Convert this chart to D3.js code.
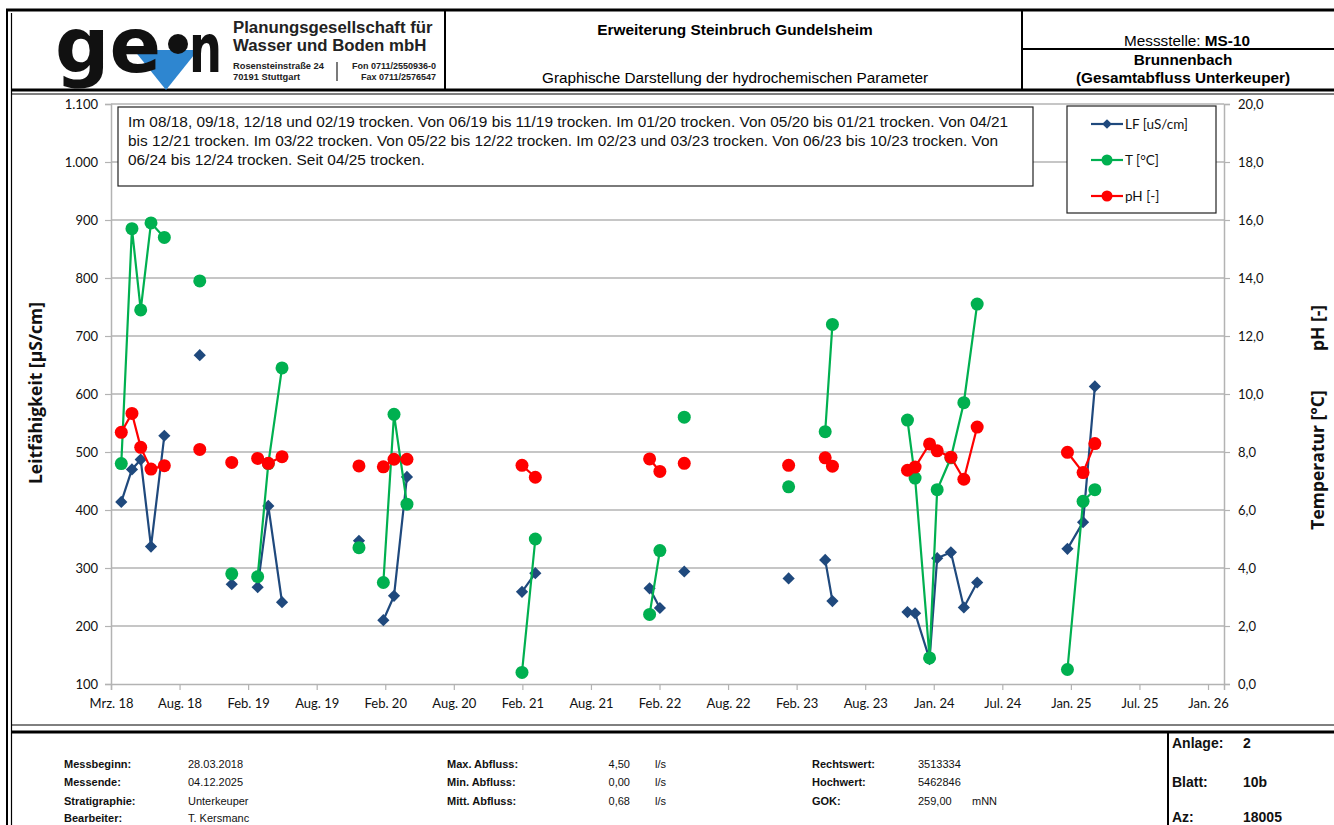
<!DOCTYPE html>
<html><head><meta charset="utf-8">
<script src="https://cdn.jsdelivr.net/npm/d3@7"></script>
<style>
html,body{margin:0;padding:0;background:#fff;}
svg{display:block;}
</style></head>
<body>
<svg id="chart" width="1334" height="825"></svg>
<script>
// ---------------- DATA ----------------
// measurement dates; dry months (from the note) carry null values and break the lines
const dates = [
 "2018-03-28","2018-04-25","2018-05-18","2018-06-14","2018-07-19","2018-08-15",
 "2018-10-20","2018-12-15",
 "2019-01-12","2019-02-15",
 "2019-03-21","2019-04-18","2019-05-24","2019-08-15",
 "2019-12-12","2020-01-15",
 "2020-02-14","2020-03-13","2020-04-16","2020-09-15",
 "2021-02-12","2021-03-19","2021-08-15",
 "2022-01-13","2022-02-09","2022-03-15",
 "2022-04-14","2022-08-15",
 "2023-01-13","2023-02-15",
 "2023-04-19","2023-05-08","2023-08-15",
 "2023-11-21","2023-12-11","2024-01-18","2024-02-07","2024-03-14","2024-04-17","2024-05-22","2024-09-15",
 "2025-01-14","2025-02-24","2025-03-27"
];
const lfValues = [414,470,487,337,528,null, 667,null, 272,null, 267,407,241,null, 347,null, 210,252,457,null,
 259,291,null, 265,231,null, 294,null, 282,null, 314,243,null, 224,222,143,317,327,232,275,null, 333,379,613];
const tValues = [7.6,15.7,12.9,15.9,15.4,null, 13.9,null, 3.8,null, 3.7,7.6,10.9,null, 4.7,null, 3.5,9.3,6.2,null,
 0.4,5.0,null, 2.4,4.6,null, 9.2,null, 6.8,null, 8.7,12.4,null, 9.1,7.1,0.9,6.7,7.8,9.7,13.1,null, 0.5,6.3,6.7];
const phValues = [8.68,9.33,8.16,7.41,7.53,null, 8.09,null, 7.64,null, 7.78,7.61,7.84,null, 7.52,null, 7.49,7.75,7.75,null,
 7.54,7.13,null, 7.76,7.33,null, 7.61,null, 7.54,null, 7.80,7.51,null, 7.37,7.48,8.28,8.04,7.82,7.06,8.86,null, 7.99,7.29,8.29];

const xTickDates = ["2018-03-01","2018-08-28","2019-02-24","2019-08-23","2020-02-19","2020-08-17","2021-02-13",
 "2021-08-12","2022-02-08","2022-08-07","2023-02-03","2023-08-02","2024-01-29","2024-07-27","2025-01-23",
 "2025-07-22","2026-01-18"];
const xTickLabels = ["Mrz. 18","Aug. 18","Feb. 19","Aug. 19","Feb. 20","Aug. 20","Feb. 21","Aug. 21","Feb. 22",
 "Aug. 22","Feb. 23","Aug. 23","Jan. 24","Jul. 24","Jan. 25","Jul. 25","Jan. 26"];
const xDomain = ["2018-03-01","2026-03-01"];
const leftTicks = [100,200,300,400,500,600,700,800,900,1000,1100];
const rightTicks = [0,2,4,6,8,10,12,14,16,18,20];
const seriesNames = ["LF [uS/cm]","T [°C]","pH [-]"];
const noteText = [
 "Im 08/18, 09/18, 12/18 und 02/19 trocken. Von 06/19 bis 11/19 trocken. Im 01/20 trocken. Von 05/20 bis 01/21 trocken. Von 04/21",
 "bis 12/21 trocken. Im 03/22 trocken. Von 05/22 bis 12/22 trocken. Im 02/23 und 03/23 trocken. Von 06/23 bis 10/23 trocken. Von",
 "06/24 bis 12/24 trocken. Seit 04/25 trocken."
];
const footerCol1 = [["Messbeginn:","28.03.2018"],["Messende:","04.12.2025"],["Stratigraphie:","Unterkeuper"],["Bearbeiter:","T. Kersmanc"]];
const footerCol2 = [["Max. Abfluss:","4,50","l/s"],["Min. Abfluss:","0,00","l/s"],["Mitt. Abfluss:","0,68","l/s"]];
const footerCol3 = [["Rechtswert:","3513334",""],["Hochwert:","5462846",""],["GOK:","259,00","mNN"]];
const footerRight = [["Anlage:","2"],["Blatt:","10b"],["Az:","18005"]];

// ---------------- DRAW ----------------
const svg = d3.select("#chart");
const parse = d3.utcParse("%Y-%m-%d");
const de = d3.formatLocale({decimal:",", thousands:".", grouping:[3], currency:["","€"]});
const fmtL = de.format(",d"), fmtR = de.format(",.1f");

const COL_LF = "#1f497d", COL_T = "#00b050", COL_PH = "#ff0000", GRID = "#b3b3b3";
const FONT = "'Liberation Sans', Arial, sans-serif";
const CFONT = "Lato, 'Open Sans', sans-serif";

const x = d3.scaleUtc().domain(xDomain.map(parse)).range([111, 1224]);
const yL = d3.scaleLinear().domain([100,1100]).range([684,104]);
const yR = d3.scaleLinear().domain([0,20]).range([684,104]);

const rows = dates.map((d,i)=>({date:parse(d), lf:lfValues[i], t:tValues[i], ph:phValues[i]}));

// ---- frame ----
const frame = svg.append("g").attr("stroke","#000").attr("fill","none");
frame.append("line").attr("x1",6).attr("x2",1334).attr("y1",10).attr("y2",10).attr("stroke-width",3);
frame.append("line").attr("x1",7).attr("x2",7).attr("y1",9).attr("y2",825).attr("stroke-width",2);
frame.append("line").attr("x1",11.5).attr("x2",11.5).attr("y1",13).attr("y2",825).attr("stroke-width",1.2);
frame.append("line").attr("x1",12).attr("x2",1334).attr("y1",90).attr("y2",90).attr("stroke-width",3);
frame.append("line").attr("x1",12).attr("x2",1334).attr("y1",94).attr("y2",94).attr("stroke-width",1);
frame.append("line").attr("x1",445).attr("x2",445).attr("y1",11).attr("y2",89).attr("stroke-width",2);
frame.append("line").attr("x1",1022).attr("x2",1022).attr("y1",11).attr("y2",89).attr("stroke-width",2);
frame.append("line").attr("x1",1022).attr("x2",1334).attr("y1",49).attr("y2",49).attr("stroke-width",2);
frame.append("line").attr("x1",12).attr("x2",1334).attr("y1",725).attr("y2",725).attr("stroke-width",1);
frame.append("line").attr("x1",12).attr("x2",1334).attr("y1",732).attr("y2",732).attr("stroke-width",3);
frame.append("line").attr("x1",1168).attr("x2",1168).attr("y1",733).attr("y2",825).attr("stroke-width",2);

// ---- logo ----
const logo = svg.append("g");
logo.append("path").attr("d","M134,50 L198,50 L166,90 Z").attr("fill","#2e86d0");
logo.append("text").attr("x",55).attr("y",72).attr("font-family","'DejaVu Sans', sans-serif").attr("font-weight",900)
  .attr("font-size",76).attr("fill","#111").attr("textLength",106).attr("lengthAdjust","spacingAndGlyphs").text("ge");
logo.append("circle").attr("cx",178).attr("cy",44).attr("r",10).attr("fill","#111");
logo.append("text").attr("x",189).attr("y",72).attr("font-family","'DejaVu Sans', sans-serif").attr("font-weight",900)
  .attr("font-size",68).attr("fill","#111").attr("textLength",33).attr("lengthAdjust","spacingAndGlyphs").text("n");
const hdr = svg.append("g").attr("font-family",FONT).attr("fill","#222");
hdr.append("text").attr("x",233).attr("y",33).attr("font-size",16.8).attr("font-weight","bold").text("Planungsgesellschaft für");
hdr.append("text").attr("x",233).attr("y",51).attr("font-size",16.8).attr("font-weight","bold").text("Wasser und Boden mbH");
hdr.append("text").attr("x",233).attr("y",69).attr("font-size",9.3).attr("font-weight","bold").text("Rosensteinstraße 24");
hdr.append("text").attr("x",233).attr("y",79.5).attr("font-size",9.3).attr("font-weight","bold").text("70191 Stuttgart");
hdr.append("line").attr("x1",337).attr("x2",337).attr("y1",62).attr("y2",81).attr("stroke","#222").attr("stroke-width",1.2);
hdr.append("text").attr("x",436).attr("y",69).attr("font-size",9).attr("font-weight","bold").attr("text-anchor","end").text("Fon 0711/2550936-0");
hdr.append("text").attr("x",436).attr("y",79.5).attr("font-size",9).attr("font-weight","bold").attr("text-anchor","end").text("Fax 0711/2576547");

hdr.append("text").attr("x",735).attr("y",35).attr("font-size",15.4).attr("font-weight","bold").attr("text-anchor","middle").attr("fill","#000").text("Erweiterung Steinbruch Gundelsheim");
hdr.append("text").attr("x",735).attr("y",83).attr("font-size",15.3).attr("text-anchor","middle").attr("fill","#000").text("Graphische Darstellung der hydrochemischen Parameter");
const ms = hdr.append("text").attr("x",1187).attr("y",46).attr("font-size",15.3).attr("text-anchor","middle").attr("fill","#000");
ms.append("tspan").text("Messstelle: ");
ms.append("tspan").attr("font-weight","bold").text("MS-10");
hdr.append("text").attr("x",1183).attr("y",65).attr("font-size",15.3).attr("font-weight","bold").attr("text-anchor","middle").attr("fill","#000").text("Brunnenbach");
hdr.append("text").attr("x",1183).attr("y",83).attr("font-size",15.3).attr("font-weight","bold").attr("text-anchor","middle").attr("fill","#000").text("(Gesamtabfluss Unterkeuper)");

// ---- gridlines ----
const plot = svg.append("g");
plot.append("g").selectAll("line").data(leftTicks.slice(1)).join("line")
  .attr("x1",111).attr("x2",1224).attr("y1",d=>yL(d)).attr("y2",d=>yL(d))
  .attr("stroke",GRID).attr("stroke-width",1.5);

// ---- axes ----
const axL = plot.append("g").attr("transform","translate(111,0)")
  .call(d3.axisLeft(yL).tickValues(leftTicks).tickFormat(fmtL).tickSize(6).tickPadding(7));
const axR = plot.append("g").attr("transform","translate(1224,0)")
  .call(d3.axisRight(yR).tickValues(rightTicks).tickFormat(fmtR).tickSize(6).tickPadding(8));
const axX = plot.append("g").attr("transform","translate(0,684)")
  .call(d3.axisBottom(x).tickValues(xTickDates.map(parse)).tickFormat((d,i)=>xTickLabels[i]).tickSize(6).tickPadding(9));
[axL,axR,axX].forEach(a=>{
  a.selectAll("path.domain").attr("stroke",GRID).attr("stroke-width",1.5);
  a.selectAll(".tick line").attr("stroke",GRID).attr("stroke-width",1.2);
  a.selectAll("text").attr("font-family",CFONT).attr("font-size",13).attr("fill","#111");
});

// axis titles
svg.append("text").attr("transform","translate(42,393) rotate(-90)").attr("text-anchor","middle")
  .attr("font-family","'Open Sans', sans-serif").attr("font-weight","bold").attr("font-size",17.5).attr("fill","#111")
  .text("Leitfähigkeit  [µS/cm]");
svg.append("text").attr("transform","translate(1324,328) rotate(-90)").attr("text-anchor","middle")
  .attr("font-family","'Open Sans', sans-serif").attr("font-weight","bold").attr("font-size",17.5).attr("fill","#111")
  .text("pH [-]");
svg.append("text").attr("transform","translate(1324,460) rotate(-90)").attr("text-anchor","middle")
  .attr("font-family","'Open Sans', sans-serif").attr("font-weight","bold").attr("font-size",17.5).attr("fill","#111")
  .text("Temperatur [°C]");

// ---- series ----
function drawSeries(key, yScale, color, shape){
  const g = plot.append("g");
  const line = d3.line().defined(d=>d[key]!=null).x(d=>x(d.date)).y(d=>yScale(d[key]));
  g.append("path").datum(rows).attr("d",line).attr("fill","none").attr("stroke",color).attr("stroke-width",2.2);
  const pts = rows.filter(d=>d[key]!=null);
  if(shape==="diamond"){
    g.selectAll("path.m").data(pts).join("path").attr("class","m")
      .attr("d",d3.symbol(d3.symbolDiamond2,95)).attr("transform",d=>`translate(${x(d.date)},${yScale(d[key])})`)
      .attr("fill",color);
  } else {
    g.selectAll("circle").data(pts).join("circle")
      .attr("cx",d=>x(d.date)).attr("cy",d=>yScale(d[key])).attr("r",6.5).attr("fill",color);
  }
}
drawSeries("lf", yL, COL_LF, "diamond");
drawSeries("t", yR, COL_T, "circle");
drawSeries("ph", yR, COL_PH, "circle");

// ---- note box ----
const note = svg.append("g");
note.append("rect").attr("x",118).attr("y",107).attr("width",915).attr("height",79)
  .attr("fill","#fff").attr("stroke","#222").attr("stroke-width",1.2);
note.selectAll("text").data(noteText).join("text")
  .attr("x",128).attr("y",(d,i)=>127+i*19).attr("font-family",FONT).attr("font-size",15.4).attr("fill","#111").text(d=>d);

// ---- legend ----
const leg = svg.append("g");
leg.append("rect").attr("x",1067).attr("y",106).attr("width",149).attr("height",107)
  .attr("fill","#fff").attr("stroke","#222").attr("stroke-width",1.2);
const legCols = [COL_LF, COL_T, COL_PH];
seriesNames.forEach((n,i)=>{
  const yy = 124 + i*36;
  leg.append("line").attr("x1",1091).attr("x2",1123).attr("y1",yy).attr("y2",yy).attr("stroke",legCols[i]).attr("stroke-width",2.2);
  if(i===0){
    leg.append("path").attr("d",d3.symbol(d3.symbolDiamond2,60)).attr("transform",`translate(1107,${yy})`).attr("fill",legCols[i]);
  } else {
    leg.append("circle").attr("cx",1107).attr("cy",yy).attr("r",5.5).attr("fill",legCols[i]);
  }
  leg.append("text").attr("x",1125).attr("y",yy+5).attr("font-family",CFONT).attr("font-size",13.5).attr("fill","#111").text(n);
});

// ---- footer ----
const ft = svg.append("g").attr("font-family",FONT).attr("font-size",11).attr("fill","#111");
const rowY = [768,786,805,822];
footerCol1.forEach((r,i)=>{
  ft.append("text").attr("x",64).attr("y",rowY[i]).attr("font-weight","bold").text(r[0]);
  ft.append("text").attr("x",188).attr("y",rowY[i]).text(r[1]);
});
footerCol2.forEach((r,i)=>{
  ft.append("text").attr("x",447).attr("y",rowY[i]).attr("font-weight","bold").text(r[0]);
  ft.append("text").attr("x",630).attr("y",rowY[i]).attr("text-anchor","end").text(r[1]);
  ft.append("text").attr("x",655).attr("y",rowY[i]).text(r[2]);
});
footerCol3.forEach((r,i)=>{
  ft.append("text").attr("x",812).attr("y",rowY[i]).attr("font-weight","bold").text(r[0]);
  ft.append("text").attr("x",918).attr("y",rowY[i]).text(r[1]);
  ft.append("text").attr("x",972).attr("y",rowY[i]).text(r[2]);
});
const frY = [748,787,822];
footerRight.forEach((r,i)=>{
  ft.append("text").attr("x",1172).attr("y",frY[i]).attr("font-size",14).attr("font-weight","bold").text(r[0]);
  ft.append("text").attr("x",1243).attr("y",frY[i]).attr("font-size",14).attr("font-weight","bold").text(r[1]);
});
</script>
</body></html>
